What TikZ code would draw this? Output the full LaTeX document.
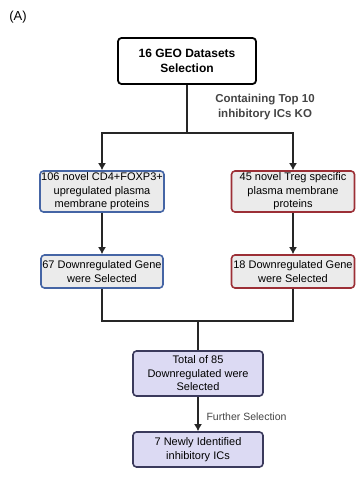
\documentclass[tikz,border=0pt]{standalone}
\usepackage{fontspec}
\setmainfont{Liberation Sans}
\usetikzlibrary{positioning,arrows.meta}

\definecolor{boxgrey}{HTML}{EBEBEB}
\definecolor{edgeblue}{HTML}{4565A5}
\definecolor{edgered}{HTML}{9C2F36}
\definecolor{lilac}{HTML}{DCDAF3}
\definecolor{edgelilac}{HTML}{3B3A5C}
\definecolor{notegrey}{HTML}{444444}

\tikzset{
  card/.style={draw, rounded corners=3.5pt, line width=1.6pt, align=center,
    inner sep=1pt, font=\fontsize{11}{13.5}\selectfont},
  topcard/.style={card, fill=white, draw=black, line width=1.8pt,
    font=\bfseries\fontsize{12}{15}\selectfont},
  bluecard/.style={card, fill=boxgrey, draw=edgeblue},
  redcard/.style={card, fill=boxgrey, draw=edgered},
  lilaccard/.style={card, fill=lilac, draw=edgelilac},
  note/.style={text=notegrey, align=center},
  wire/.style={line width=1.7pt, draw=black!85}
}

\begin{document}
\begin{tikzpicture}[x=1pt, y=-1pt, >={Latex[length=7pt,width=8pt]}]
  \useasboundingbox (0,0) rectangle (363,484);

  % Label
  \node[font=\fontsize{13}{15}\selectfont] (tag) at (18,17) {(A)};

  % Boxes
  \node[topcard, minimum width=138pt, minimum height=46pt] (geo) at (187,61)
    {16 GEO Datasets\\Selection};
  \node[bluecard, minimum width=124pt, minimum height=41pt] (cdfour) at (102,191.5)
    {106 novel CD4+FOXP3+\\upregulated plasma\\membrane proteins};
  \node[redcard, minimum width=123pt, minimum height=41pt] (treg) at (293,191.5)
    {45 novel Treg specific\\plasma membrane\\proteins};
  \node[bluecard, minimum width=122pt, minimum height=33pt] (downl) at (102,271.5)
    {67 Downregulated Gene\\were Selected};
  \node[redcard, minimum width=123pt, minimum height=33pt] (downr) at (293,271.5)
    {18 Downregulated Gene\\were Selected};
  \node[lilaccard, minimum width=130pt, minimum height=45pt] (total) at (198,373.5)
    {Total of 85\\Downregulated were\\Selected};
  \node[lilaccard, minimum width=130pt, minimum height=35pt] (newics) at (198,449.5)
    {7 Newly Identified\\inhibitory ICs};

  % Notes
  \node[note, font=\bfseries\fontsize{11.5}{15}\selectfont] (topten) at (265,107)
    {Containing Top 10\\inhibitory ICs KO};
  \node[note, anchor=west, font=\fontsize{10.5}{12}\selectfont] (further) at (203,417)
    {Further Selection};

  % Junctions
  \coordinate (split) at (187,133);
  \coordinate (merge) at (198,321);

  % Connectors
  \draw[wire] (geo) -- (split);
  \draw[wire, ->] (split) -| (cdfour);
  \draw[wire, ->] (split) -| (treg);
  \draw[wire, ->] (cdfour) -- (downl);
  \draw[wire, ->] (treg) -- (downr);
  \draw[wire] (downl) |- (merge);
  \draw[wire] (downr) |- (merge);
  \draw[wire] (merge) -- (total);
  \draw[wire, ->] (total) -- (newics);
\end{tikzpicture}
\end{document}
